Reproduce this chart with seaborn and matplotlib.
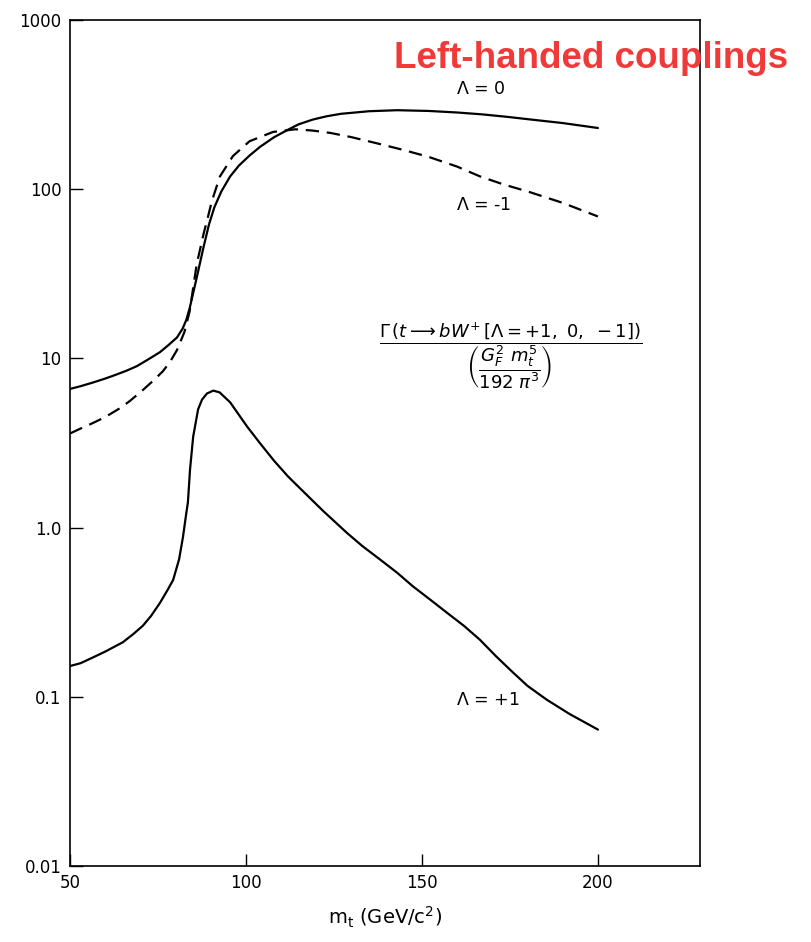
import numpy as np
import pandas as pd
import matplotlib
matplotlib.use("Agg")
import matplotlib.pyplot as plt
import seaborn as sns

# ---- data ----
x_lam0 = [50, 53, 56.5, 60, 63, 66, 69, 72, 75.6, 78, 80.4, 82, 83, 84, 86, 88, 89.5, 91, 93,
          95.5, 98, 101, 104, 108, 112, 115, 119, 123, 127, 135, 143, 152, 160, 167, 174,
          181, 190, 200]
y_lam0 = [6.6, 6.85, 7.2, 7.6, 8.0, 8.45, 9.0, 9.8, 10.9, 12.0, 13.3, 15.0, 16.8, 19.8, 30, 46,
          62, 78, 97, 119, 138, 158, 178, 203, 225, 242, 258, 270, 279, 289, 293, 290, 284,
          277, 268, 258, 246, 230]

x_lamm1 = [50, 53, 56.5, 60, 64, 67, 70.7, 74, 76.4, 78.5, 80.4, 82.5, 84, 86, 88, 89, 90.3,
           92.6, 96.3, 101, 107.7, 114, 119, 124, 130, 138, 145, 152, 160, 166.5, 173,
           180.7, 190, 200]
y_lamm1 = [3.6, 3.85, 4.15, 4.5, 5.05, 5.6, 6.5, 7.5, 8.4, 9.6, 11.2, 14.3, 19.0, 36, 55, 66,
           85, 119, 157, 192, 218, 226, 222, 215, 203, 185, 170, 155, 136, 119, 107, 96,
           83, 69]

x_lamp1 = [50, 53, 56.3, 60, 65, 68, 70.7, 73, 75.6, 77.5, 79.3, 81, 82.1, 83, 83.5, 84.1,
           85, 86.4, 87.5, 88.9, 90.7, 92.5, 95.5, 100.3, 104, 108, 112, 117, 122, 128.7,
           133, 138, 143, 147.4, 152, 157.1, 162, 166.5, 171, 175.9, 180, 185.5, 192, 200]
y_lamp1 = [0.152, 0.158, 0.17, 0.185, 0.21, 0.235, 0.263, 0.30, 0.36, 0.42, 0.49, 0.65, 0.88,
           1.2, 1.41, 2.2, 3.45, 5.0, 5.7, 6.2, 6.45, 6.3, 5.5, 3.96, 3.15, 2.48, 2.0, 1.58,
           1.25, 0.93, 0.78, 0.65, 0.54, 0.45, 0.38, 0.314, 0.262, 0.217, 0.174, 0.139,
           0.116, 0.096, 0.079, 0.064]

ytick_vals = [0.01, 0.1, 1.0, 10, 100, 1000]
ytick_labels = ["0.01", "0.1", "1.0", "10", "100", "1000"]
xtick_vals = [50, 100, 150, 200]
xtick_labels = ["50", "100", "150", "200"]

curve_labels = [r"$\Lambda$ = 0", r"$\Lambda$ = -1", r"$\Lambda$ = +1"]
curve_label_pos = [(159.7, 391), (159.7, 80.4), (159.7, 0.096)]

# ---- figure ----
sns.set_theme(style="white")
plt.rcParams['font.family'] = ['DejaVu Sans']
plt.rcParams['mathtext.fontset'] = 'dejavusans'

fig = plt.figure(figsize=(8.12, 9.42), dpi=100)
ax = fig.add_axes([70 / 812, 1 - 866 / 942, 630 / 812, 846 / 942])

df0 = pd.DataFrame({"x": x_lam0, "y": y_lam0})
dfm = pd.DataFrame({"x": x_lamm1, "y": y_lamm1})
dfp = pd.DataFrame({"x": x_lamp1, "y": y_lamp1})

sns.lineplot(data=df0, x="x", y="y", ax=ax, color="black", lw=1.6)
sns.lineplot(data=dfm, x="x", y="y", ax=ax, color="black", lw=1.6, dashes=False,
             linestyle=(0, (6, 3.5)))
sns.lineplot(data=dfp, x="x", y="y", ax=ax, color="black", lw=1.6)

ax.set_yscale("log")
ax.set_xlim(50, 229)
ax.set_ylim(0.01, 1000)
ax.set_yticks(ytick_vals)
ax.set_yticklabels(ytick_labels)
ax.set_xticks(xtick_vals)
ax.set_xticklabels(xtick_labels)
ax.minorticks_off()
ax.tick_params(axis="both", direction="in", length=9, width=1.0, color="black",
               labelsize=12, labelcolor="black", pad=6)
ax.tick_params(axis="y", left=True)
ax.tick_params(axis="x", bottom=True)
for s in ax.spines.values():
    s.set_color("black")
    s.set_linewidth(1.2)

ax.set_xlabel(r"m$_{\rm t}$ (GeV/c$^{2}$)", fontsize=14, labelpad=9, color="black")
ax.set_ylabel("")

for lab, (lx, ly) in zip(curve_labels, curve_label_pos):
    ax.text(lx, ly, lab, fontsize=12.5, ha="left", va="center", color="black")

ax.text(0.70, 0.603,
        r"$\dfrac{\Gamma\,(t \longrightarrow bW^{+}\,[\Lambda = +1,\ 0,\ -1])}"
        r"{\left(\dfrac{G_F^2\ m_t^5}{192\ \pi^3}\right)}$",
        transform=ax.transAxes, fontsize=13, ha="center", va="center", color="black")

fig.text(591 / 812, 1 - 58 / 942, "Left-handed couplings", fontsize=26.5,
         fontweight="bold", color="#F03A3A", ha="center", va="center",
         family=["Liberation Sans", "DejaVu Sans"])

fig.savefig("out.png", dpi=100)
